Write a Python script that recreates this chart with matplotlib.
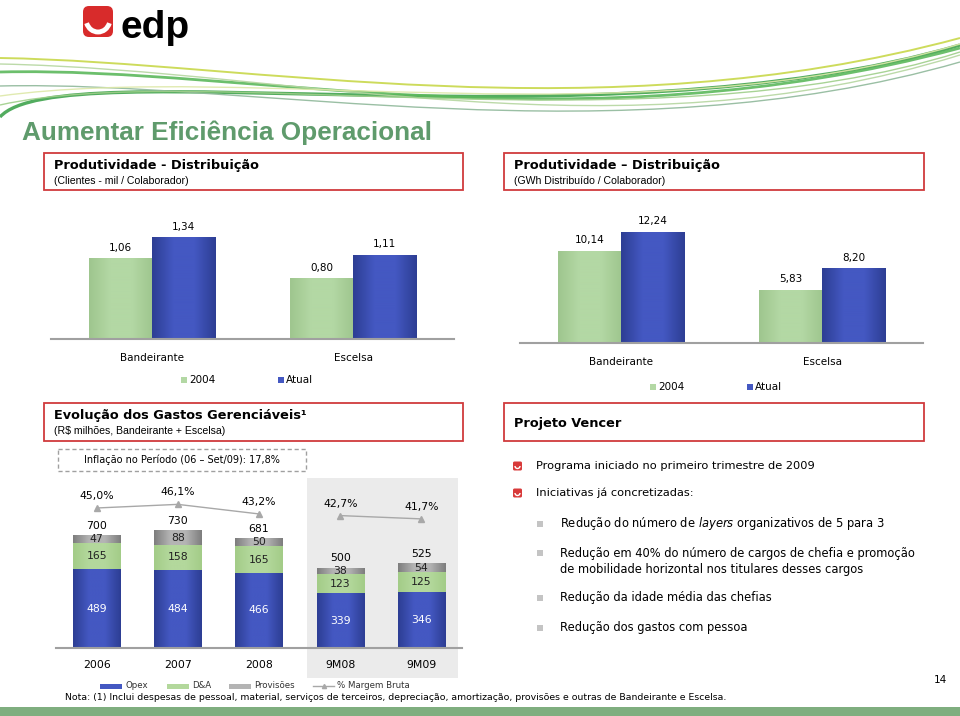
import matplotlib
matplotlib.use("Agg")
import matplotlib.pyplot as plt
import numpy as np
from matplotlib.patches import Rectangle, FancyBboxPatch, Arc, PathPatch
from matplotlib.path import Path
from matplotlib.lines import Line2D
from matplotlib.colors import LinearSegmentedColormap

plt.rcParams['font.family'] = ['DejaVu Sans']

# data
empresas = ['Bandeirante', 'Escelsa']
cli_2004 = [1.06, 0.80]
cli_atual = [1.34, 1.11]
gwh_2004 = [10.14, 5.83]
gwh_atual = [12.24, 8.20]

periodos = ['2006', '2007', '2008', '9M08', '9M09']
opex = [489, 484, 466, 339, 346]
d_a = [165, 158, 165, 123, 125]
provisoes = [47, 88, 50, 38, 54]
totais = [700, 730, 681, 500, 525]
margem = [45.0, 46.1, 43.2, 42.7, 41.7]

bullets = ['Programa iniciado no primeiro trimestre de 2009',
           'Iniciativas já concretizadas:']
sub_bullets = [['Redução do número de $\\it{layers}$ organizativos de 5 para 3'],
               ['Redução em 40% do número de cargos de chefia e promoção',
                'de mobilidade horizontal nos titulares desses cargos'],
               ['Redução da idade média das chefias'],
               ['Redução dos gastos com pessoa']]

GREEN = ('#9fc68f', '#b3d8a4')
BLUE = ('#2d3e94', '#4458c2')
DA_GREEN = ('#a3cc88', '#b3d89c')
GRAY = ('#7e7e7e', '#b4b4b4')
RED = '#d03a3d'
TITLE_GREEN = '#5f9b6c'

W, H = 960, 716
fig = plt.figure(figsize=(9.6, 7.16), dpi=100)
bg = fig.add_axes([0, 0, 1, 1])
bg.set_xlim(0, W)
bg.set_ylim(H, 0)
bg.axis('off')


def px_axes(x0, y0, x1, y1):
    a = fig.add_axes([x0 / W, 1 - y1 / H, (x1 - x0) / W, (y1 - y0) / H])
    a.patch.set_alpha(0)
    return a


def fmt(v, nd=2):
    return f'{v:.{nd}f}'.replace('.', ',')


def shade(ax, bars, cols):
    # horizontal gradient inside each bar (darker edges, lighter middle)
    cmap = LinearSegmentedColormap.from_list('g', [cols[0], cols[1], cols[1], cols[0]])
    grad = np.linspace(0, 1, 64).reshape(1, -1)
    for r in bars:
        r.set_facecolor(cols[1])
        im = ax.imshow(grad, cmap=cmap, aspect='auto', interpolation='bicubic',
                       extent=(r.get_x(), r.get_x() + r.get_width(), r.get_y(), r.get_y() + r.get_height()),
                       zorder=r.get_zorder())
        im.set_clip_path(r)


# logo
bg.add_patch(FancyBboxPatch((83, 6), 30, 31, boxstyle='round,pad=0,rounding_size=6',
                            fc='#d82b2b', ec='none'))
bg.add_patch(Arc((98, 19), 24, 26, theta1=20, theta2=160, color='white', lw=3.5))
bg.text(120, 38, 'edp', fontsize=28, fontweight='bold', family='Liberation Sans',
        va='baseline', ha='left', color='black')

# swoosh
curves = [((0, 117), (60, 50), (600, 150), (960, 45), '#3fa34d', 2.4),
          ((0, 58), (250, 62), (600, 135), (960, 38), '#c8d84a', 1.4),
          ((0, 72), (250, 66), (580, 150), (960, 48), '#5cb85c', 2.0),
          ((0, 64), (300, 70), (620, 160), (960, 55), '#b5d6a0', 1.0),
          ((0, 86), (250, 80), (620, 160), (960, 62), '#8fb89a', 1.0),
          ((0, 96), (250, 62), (640, 140), (960, 44), '#dde8a8', 1.0),
          ((0, 105), (200, 60), (650, 150), (960, 52), '#9fcf8a', 1.0)]
for p0, p1, p2, p3, col, lw in curves:
    p = Path([p0, p1, p2, p3], [Path.MOVETO, Path.CURVE4, Path.CURVE4, Path.CURVE4])
    bg.add_patch(PathPatch(p, fc='none', ec=col, lw=lw, alpha=0.9))

bg.text(22, 133, 'Aumentar Eficiência Operacional', fontsize=18.8, fontweight='bold',
        family='Liberation Sans', color=TITLE_GREEN, va='center')


def header(x0, y0, x1, y1, title, sub=None):
    bg.add_patch(Rectangle((x0, y0), x1 - x0, y1 - y0, fc='white', ec=RED, lw=1.3))
    if sub:
        bg.text(x0 + 10, y0 + 13, title, fontsize=9.3, fontweight='bold', va='center')
        bg.text(x0 + 10, y0 + 28, sub, fontsize=7.6, va='center', family='Liberation Sans')
    else:
        bg.text(x0 + 10, (y0 + y1) / 2 + 1, title, fontsize=9.3, fontweight='bold', va='center')


header(44, 153, 463, 190, 'Produtividade - Distribuição', '(Clientes - mil / Colaborador)')
header(504, 153, 924, 190, 'Produtividade – Distribuição', '(GWh Distribuído / Colaborador)')
header(44, 403, 463, 441, 'Evolução dos Gastos Gerenciáveis¹', '(R$ milhões, Bandeirante + Escelsa)')
header(504, 403, 924, 441, 'Projeto Vencer')


def bar_pair(box, v2004, vatual, ymax, leg_y, leg_x):
    ax = px_axes(*box)
    x = np.arange(len(empresas))
    w = 0.313
    b1 = ax.bar(x - w / 2, v2004, w)
    b2 = ax.bar(x + w / 2, vatual, w)
    shade(ax, b1, GREEN)
    shade(ax, b2, BLUE)
    for bars, vals in ((b1, v2004), (b2, vatual)):
        for r, v in zip(bars, vals):
            ax.annotate(fmt(v), (r.get_x() + r.get_width() / 2, v), xytext=(0, 4),
                        textcoords='offset points', ha='center', va='bottom', fontsize=7.5)
    ax.set_xlim(-0.5, 1.5)
    ax.set_ylim(0, ymax)
    for s in ('top', 'left', 'right'):
        ax.spines[s].set_visible(False)
    ax.spines['bottom'].set_color('#a0a0a0')
    ax.spines['bottom'].set_linewidth(1.5)
    ax.set_yticks([])
    ax.set_xticks(x)
    ax.set_xticklabels(empresas, fontsize=7.5)
    ax.tick_params(axis='x', length=0, pad=10)
    for lx, col, lab in ((leg_x, GREEN[1], '2004'), (leg_x + 97, BLUE[1], 'Atual')):
        bg.add_patch(Rectangle((lx, leg_y - 3), 6, 6, fc=col, ec='none'))
        bg.text(lx + 8, leg_y, lab, fontsize=7.5, va='center')
    return ax


bar_pair((51, 215, 454, 339), cli_2004, cli_atual, 124 / 76, 380, 181)
bar_pair((520, 215, 923, 343), gwh_2004, gwh_atual, 128 / 9.1, 387, 650)

# stacked chart
bg.add_patch(Rectangle((58, 449), 248, 22, fc='white', ec='#a0a0a0', lw=1, ls=(0, (3, 2))))
bg.text(182, 460, 'Inflação no Período (06 – Set/09): 17,8%', fontsize=7, ha='center', va='center')
bg.add_patch(Rectangle((307, 478), 151, 200, fc='#ebebeb', ec='none'))

ax3 = px_axes(56, 478, 462, 648)
x = np.arange(len(periodos))
w = 0.58
bo = ax3.bar(x, opex, w)
bd = ax3.bar(x, d_a, w, bottom=opex)
base2 = np.array(opex) + np.array(d_a)
bp = ax3.bar(x, provisoes, w, bottom=base2)
shade(ax3, bo, BLUE)
shade(ax3, bd, DA_GREEN)
shade(ax3, bp, GRAY)
for i in x:
    ax3.text(i, opex[i] / 2, str(opex[i]), ha='center', va='center', fontsize=7.8, color='white', zorder=5)
    ax3.text(i, opex[i] + d_a[i] / 2, str(d_a[i]), ha='center', va='center', fontsize=7.8,
             color='#222222', zorder=5)
    ax3.text(i, base2[i] + provisoes[i] / 2, str(provisoes[i]), ha='center', va='center', fontsize=7.8,
             color='#222222', zorder=5)
    ax3.annotate(str(totais[i]), (i, base2[i] + provisoes[i]), xytext=(0, 3), textcoords='offset points',
                 ha='center', va='bottom', fontsize=7.8)
ax3.set_xlim(-0.5, 4.5)
ax3.set_ylim(0, 170 / 0.161)
for s in ('top', 'left', 'right'):
    ax3.spines[s].set_visible(False)
ax3.spines['bottom'].set_color('#a0a0a0')
ax3.spines['bottom'].set_linewidth(1.5)
ax3.set_yticks([])
ax3.set_xticks(x)
ax3.set_xticklabels(periodos, fontsize=7.8)
ax3.tick_params(axis='x', length=0, pad=9)

axm = ax3.twinx()
axm.patch.set_alpha(0)
axm.set_ylim(45 - 140 / 3.3, 45 + 30 / 3.3)
axm.axis('off')
for seg in (slice(0, 3), slice(3, 5)):
    axm.plot(x[seg], margem[seg], color='#a8a8a8', lw=1, marker='^', ms=4,
             mfc='#a8a8a8', mec='#a8a8a8')
for i in x:
    axm.annotate(fmt(margem[i], 1) + '%', (i, margem[i]), xytext=(0, 5), textcoords='offset points',
                 ha='center', va='bottom', fontsize=7.8)

# legend of stacked chart
leg_y = 686
for lx, col, lab in ((100, BLUE[1], 'Opex'), (167, DA_GREEN[1], 'D&A'), (229, GRAY[1], 'Provisões')):
    bg.add_patch(Rectangle((lx, leg_y - 2.5), 22, 5, fc=col, ec='none'))
    bg.text(lx + 25, leg_y, lab, fontsize=6.2, va='center', color='#333333')
bg.add_line(Line2D([313, 334], [leg_y, leg_y], color='#a8a8a8', lw=1))
bg.plot([323.5], [leg_y], marker='^', ms=3, color='#a8a8a8')
bg.text(337, leg_y, '% Margem Bruta', fontsize=6.2, va='center', color='#333333')

bg.text(65, 698, 'Nota: (1) Inclui despesas de pessoal, material, serviços de terceiros, depreciação, '
        'amortização, provisões e outras de Bandeirante e Escelsa.', fontsize=6.75, va='center')
bg.add_patch(Rectangle((0, 707), W, 9, fc='#7fae7f', ec='none'))
bg.text(940, 680, '14', fontsize=7.5, ha='center', va='center')

# Projeto Vencer bullets
for yy, txt in zip((466, 493), bullets):
    bg.add_patch(FancyBboxPatch((513, yy - 4.5), 9, 9, boxstyle='round,pad=0,rounding_size=1.5',
                                fc='#d83a3a', ec='none'))
    bg.add_patch(Arc((517.5, yy), 5, 5, theta1=0, theta2=180, color='white', lw=1))
    bg.text(536, yy, txt, fontsize=8.2, va='center')
sub_y = [524, 553, 598, 628]
for yy, lines in zip(sub_y, sub_bullets):
    bg.add_patch(Rectangle((537, yy - 3), 6, 6, fc='#c4c4c4', ec='none'))
    for k, ln in enumerate(lines):
        bg.text(560, yy + k * 16, ln, fontsize=8.3, va='center')

fig.savefig('out.png', dpi=100)
